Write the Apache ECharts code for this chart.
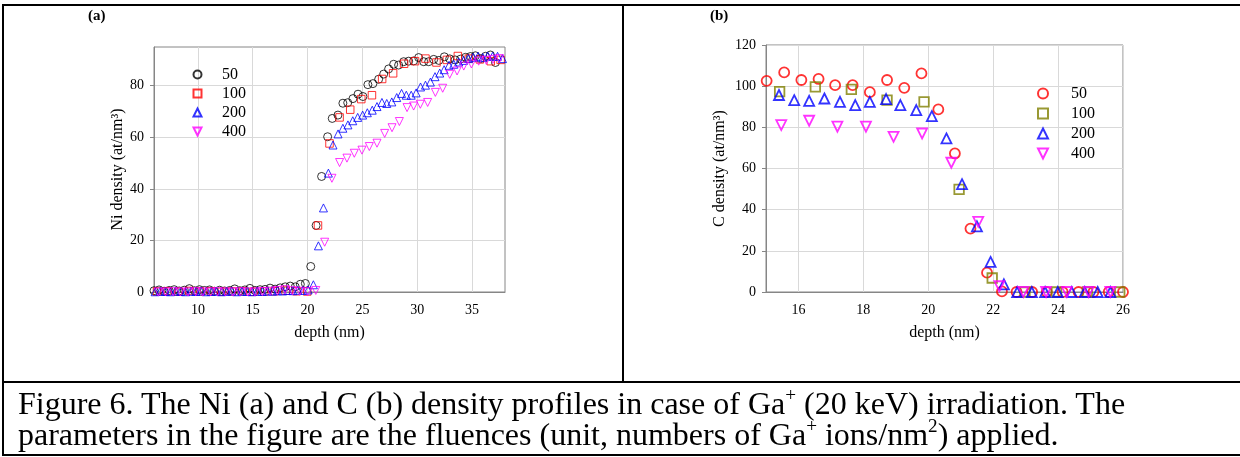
<!DOCTYPE html>
<html><head><meta charset="utf-8">
<script src="https://cdn.jsdelivr.net/npm/echarts@6/dist/echarts.min.js"></script>
<style>
html,body{margin:0;padding:0;background:#fff;}
#wrap{position:relative;width:1240px;height:457px;overflow:hidden;font-family:'Liberation Serif','Times New Roman',serif;}
#chart{position:absolute;left:0;top:0;width:1240px;height:457px;}
.ln{position:absolute;background:#000;}
#cap{position:absolute;left:18px;top:388px;font-size:32px;line-height:31px;color:#000;white-space:nowrap;}
sup{font-size:0.6em;line-height:0;vertical-align:0.7em;}
</style></head><body>
<div id="wrap">
<div id="chart"></div>
<div class="ln" style="left:2px;top:4px;width:1238px;height:2px"></div>
<div class="ln" style="left:2px;top:4px;width:2px;height:452px"></div>
<div class="ln" style="left:622px;top:4px;width:2px;height:379px"></div>
<div class="ln" style="left:2px;top:381px;width:1238px;height:2px"></div>
<div class="ln" style="left:2px;top:454px;width:1238px;height:2px"></div>
<div id="cap">Figure 6. The Ni (a) and C (b) density profiles in case of Ga<sup>+</sup> (20 keV) irradiation. The<br>parameters in the figure are the fluences (unit, numbers of Ga<sup>+</sup> ions/nm<sup>2</sup>) applied.</div>
</div>
<script>
// ---- Panel (a): Ni density ----
const fluences = ['50', '100', '200', '400'];
const niXTicks = [10, 15, 20, 25, 30, 35];
const niYTicks = [0, 20, 40, 60, 80];
const cXTicks = [16, 18, 20, 22, 24, 26];

const niX50 = [6.0,6.46,6.92,7.38,7.84,8.3,8.76,9.22,9.68,10.14,10.6,11.06,11.52,11.98,12.44,12.9,13.36,13.82,14.28,14.74,15.2,15.66,16.12,16.58,17.04,17.5,17.96,18.42,18.88,19.34,19.8,20.29,20.78,21.28,21.83,22.25,22.77,23.22,23.66,24.14,24.6,25.05,25.5,25.96,26.48,26.94,27.39,27.85,28.3,28.76,29.22,29.67,30.13,30.59,31.04,31.5,31.97,32.47,32.96,33.45,33.95,34.4,34.85,35.3,35.76,36.22,36.67,37.13];
const niY50 = [0.5,0.8,0.3,0.6,0.9,0.4,0.7,1.3,0.5,0.9,0.6,0.8,0.3,0.7,0.4,0.6,1.2,0.5,0.8,1.4,0.6,0.9,1.0,1.5,1.1,1.6,2.0,2.3,2.0,3.0,3.3,9.9,25.8,44.8,60.2,67.3,68.6,73.2,73.4,75.0,76.7,75.8,80.4,80.8,82.5,84.5,86.5,88.3,88.0,89.3,89.5,89.6,90.9,89.3,89.3,90.2,89.8,91.2,90.4,90.0,90.3,91.0,91.3,91.6,90.5,91.4,91.9,89.0];

const niX100 = [6.27,7.25,8.23,9.2,10.2,11.17,12.15,13.1,14.1,15.07,16.05,17.0,18.0,18.99,19.97,20.95,22.0,22.92,23.89,24.9,25.87,26.8,27.8,28.8,29.8,30.75,31.75,32.7,33.7,34.7,35.7,36.7,37.6];
const niY100 = [0.2,0.3,0.1,0.4,0.2,0.3,0.1,0.2,0.3,0.1,0.2,0.3,0.5,0.3,0.2,25.8,57.6,67.7,70.7,74.8,76.3,82.6,84.8,88.5,89.5,90.5,89.0,90.0,91.5,90.5,90.2,89.5,90.0];

const niX200 = [6.1,6.57,7.03,7.5,7.96,8.43,8.89,9.36,9.82,10.29,10.75,11.22,11.68,12.15,12.61,13.08,13.54,14.01,14.47,14.94,15.4,15.87,16.33,16.8,17.26,17.73,18.19,18.66,19.12,19.59,20.05,20.53,20.99,21.45,21.9,22.32,22.78,23.22,23.68,24.12,24.57,25.02,25.45,25.9,26.33,26.78,27.22,27.68,28.13,28.57,29.0,29.45,29.9,30.3,30.75,31.2,31.62,32.05,32.45,32.9,33.33,33.78,34.22,34.67,35.1,35.55,35.98,36.42,36.87,37.32,37.77];
const niY200 = [0.1,0.3,0.2,0.1,0.4,0.2,0.1,0.3,0.2,0.4,0.1,0.2,0.3,0.1,0.2,0.4,0.1,0.3,0.2,0.1,0.3,0.2,0.4,0.3,0.5,0.4,0.6,0.5,0.7,0.6,0.8,2.8,17.9,32.6,46.1,57.0,61.3,63.5,64.8,66.4,67.7,68.6,69.5,70.5,71.9,73.5,73.1,73.7,75.4,77.0,76.3,76.3,77.2,79.5,80.2,81.4,83.5,84.9,86.2,87.9,88.3,89.2,89.8,90.5,91.0,91.4,90.9,91.5,91.4,91.4,90.5];

const niX400 = [6.4,7.05,7.75,8.4,9.1,9.8,10.45,11.15,11.8,12.5,13.2,13.85,14.55,15.2,15.9,16.6,17.25,17.95,18.6,19.3,20.0,20.75,21.56,22.22,22.92,23.59,24.26,24.96,25.63,26.33,27.03,27.7,28.37,29.07,29.67,30.28,30.95,31.65,32.32,32.96,33.63,34.24,34.94,35.6,36.3,36.9,37.5];
const niY400 = [0,0,0.1,0,0,0.1,0,0,0.1,0,0,0.1,0,0,0.2,0.3,0.6,0.9,0.5,0.3,0.1,0.6,19.3,44.1,50.2,51.9,53.8,55.0,56.4,57.7,61.5,63.7,66.1,71.5,72.1,72.8,73.5,77.4,79.0,84.4,85.7,87.6,88.4,89.5,89.8,90.2,90.5];

// ---- Panel (b): C density ----
const cX50 = [15.02,15.56,16.09,16.62,17.13,17.67,18.2,18.73,19.26,19.79,20.31,20.82,21.3,21.81,22.27,22.72,23.2,23.65,24.14,24.63,25.09,25.56,26.0];
const cY50 = [102.6,106.7,103.0,103.5,100.5,100.5,97.1,103.0,99.2,106.2,88.7,67.3,30.8,9.4,0.3,0,0,0,0,0,0,0,0];
const cX100 = [15.42,16.52,17.63,18.73,19.87,20.95,21.97,22.98,23.95,24.9,25.9];
const cY100 = [97.3,99.7,98.4,93.2,92.4,49.9,6.8,0,0,0,0];
const cX200 = [15.4,15.87,16.33,16.8,17.28,17.75,18.2,18.7,19.14,19.63,20.11,20.56,21.04,21.5,21.92,22.33,22.74,23.19,23.6,23.99,24.42,24.82,25.22,25.61];
const cY200 = [95.7,93.2,92.9,94.0,92.4,90.8,92.4,93.7,90.8,88.4,85.4,74.6,52.4,31.9,14.6,3.7,0,0,0,0,0,0,0,0];
const cX400 = [15.47,16.33,17.2,18.08,18.93,19.81,20.71,21.54,22.19,22.93,23.63,24.27,24.94,25.61];
const cY400 = [81.1,83.2,80.3,80.3,75.4,77.0,62.8,34.1,2.8,0,0,0,0,0];

const FONT = 'Liberation Serif';
const DOWN_TRI = 'path://M0,0L2,0L1,2Z';
const pair = (xs, ys) => xs.map((x, i) => [x, ys[i]]);

function sc(name, grid, xs, ys, symbol, size, color, bw) {
  return {
    type: 'scatter', name: name, xAxisIndex: grid, yAxisIndex: grid,
    data: pair(xs, ys), symbol: symbol, symbolSize: size,
    itemStyle: { color: 'rgba(0,0,0,0)', borderColor: color, borderWidth: bw },
    emphasis: { disabled: true }, silent: true
  };
}

const axisGray = '#868686';
const gridGray = '#d9d9d9';

function xAxisCfg(grid, min, max, ticks) {
  return {
    type: 'value', gridIndex: grid, min: min, max: max,
    axisLine: { show: true, onZero: false, lineStyle: { color: axisGray, width: 1 } },
    axisTick: { show: false, customValues: ticks },
    axisLabel: { customValues: ticks, color: '#000', fontFamily: FONT, fontSize: 14, margin: 11 },
    splitLine: { show: true, lineStyle: { color: gridGray, width: 1 } },
    name: 'depth (nm)', nameLocation: 'middle', nameGap: 33,
    nameTextStyle: { color: '#000', fontFamily: FONT, fontSize: 16 }
  };
}
function yAxisCfg(grid, min, max, ticks, name, gap) {
  return {
    type: 'value', gridIndex: grid, min: min, max: max,
    axisLine: { show: true, onZero: false, lineStyle: { color: axisGray, width: 1 } },
    axisTick: { show: true, inside: false, length: 4, customValues: ticks, lineStyle: { color: axisGray } },
    axisLabel: { customValues: ticks, color: '#000', fontFamily: FONT, fontSize: 14, margin: 10 },
    splitLine: { show: true, lineStyle: { color: gridGray, width: 1 } },
    name: name, nameLocation: 'middle', nameGap: gap,
    nameTextStyle: { color: '#000', fontFamily: FONT, fontSize: 16 }
  };
}

function legendCfg(prefix, left, top, iconSize, spacer, gap) {
  return {
    orient: 'vertical', left: left, top: top, padding: 0,
    itemWidth: iconSize, itemHeight: iconSize, itemGap: gap,
    data: fluences.map(f => prefix + f),
    formatter: n => '{g|\u00a0}{t|' + n.slice(1) + '}',
    textStyle: {
      color: '#000', fontFamily: FONT, fontSize: 16,
      rich: {
        g: { width: spacer, fontSize: 16 },
        t: { fontFamily: FONT, fontSize: 16, color: '#000' }
      }
    },
    selectedMode: false
  };
}

const chart = echarts.init(document.getElementById('chart'), null, { renderer: 'canvas' });
chart.setOption({
  animation: false,
  backgroundColor: 'transparent',
  title: [
    { text: '(a)', left: 88, top: 9, padding: 0, textStyle: { fontFamily: FONT, fontSize: 15, fontWeight: 'bold', color: '#000' } },
    { text: '(b)', left: 710, top: 9, padding: 0, textStyle: { fontFamily: FONT, fontSize: 15, fontWeight: 'bold', color: '#000' } }
  ],
  grid: [
    { left: 154, top: 47, width: 351, height: 245, show: true, borderColor: axisGray, borderWidth: 1, backgroundColor: 'transparent' },
    { left: 766, top: 45, width: 357, height: 247, show: true, borderColor: axisGray, borderWidth: 1, backgroundColor: 'transparent' }
  ],
  xAxis: [ xAxisCfg(0, 6, 38, niXTicks), xAxisCfg(1, 15, 26, cXTicks) ],
  yAxis: [
    yAxisCfg(0, 0, 95, niYTicks, 'Ni density (at/nm\u00b3)', 28),
    Object.assign(yAxisCfg(1, 0, 120, null, 'C density (at/nm\u00b3)', 38), { interval: 20 })
  ],
  legend: [
    legendCfg('a', 192.5, 66.5, 8, 15.5, 3),
    legendCfg('b', 1037, 85.5, 10, 18, 4)
  ],
  series: [
    sc('a50', 0, niX50, niY50, 'circle', 8, '#000000', 1),
    sc('a100', 0, niX100, niY100, 'rect', 7.5, '#ff0000', 1),
    sc('a200', 0, niX200, niY200, 'triangle', 8, '#0000ff', 1),
    sc('a400', 0, niX400, niY400, DOWN_TRI, 8, '#ff00ff', 1),
    sc('b50', 1, cX50, cY50, 'circle', 10, '#ff0000', 1.8),
    sc('b100', 1, cX100, cY100, 'rect', 9.5, '#808000', 1.8),
    sc('b200', 1, cX200, cY200, 'triangle', 10, '#0000ff', 1.8),
    sc('b400', 1, cX400, cY400, DOWN_TRI, 10, '#ff00ff', 1.8)
  ]
});
</script>
</body></html>
